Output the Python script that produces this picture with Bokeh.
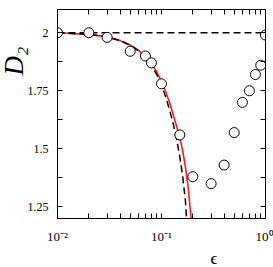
from bokeh.plotting import figure
from bokeh.models import Range1d, FixedTicker, LinearAxis, LogAxis, Title
from bokeh.embed import file_html
from bokeh.resources import INLINE

# ---- data ----
eps_pts = [0.01, 0.02, 0.03, 0.05, 0.07, 0.08, 0.10, 0.15, 0.20, 0.30, 0.40,
           0.50, 0.60, 0.70, 0.80, 0.90, 1.00]
d2_pts = [2.00, 2.00, 1.98, 1.92, 1.90, 1.87, 1.78, 1.56, 1.38, 1.35, 1.43,
          1.57, 1.70, 1.75, 1.82, 1.86, 1.99]

red_eps = [0.010, 0.020, 0.030, 0.040, 0.050, 0.060, 0.070, 0.080, 0.090, 0.100,
           0.110, 0.120, 0.130, 0.140, 0.150, 0.160, 0.170, 0.180, 0.190, 0.193]
red_d2 = [2.000, 1.993, 1.982, 1.966, 1.947, 1.925, 1.898, 1.867, 1.832, 1.790,
          1.745, 1.697, 1.645, 1.595, 1.550, 1.490, 1.420, 1.340, 1.230, 1.200]

dash_eps = [0.010, 0.020, 0.030, 0.040, 0.050, 0.060, 0.070, 0.080, 0.090, 0.100,
            0.110, 0.120, 0.130, 0.140, 0.150, 0.160, 0.170, 0.174]
dash_d2 = [2.000, 1.993, 1.982, 1.966, 1.946, 1.922, 1.893, 1.858, 1.820, 1.775,
           1.722, 1.665, 1.605, 1.540, 1.465, 1.380, 1.275, 1.200]

flat_eps = [0.01, 1.0]
flat_d2 = [2.0, 2.0]

x_major = [0.01, 0.1, 1.0]
x_minor = [0.02, 0.03, 0.04, 0.05, 0.06, 0.07, 0.08, 0.09,
           0.2, 0.3, 0.4, 0.5, 0.6, 0.7, 0.8, 0.9]
x_labels = ["10⁻²", "10⁻¹", "10⁰"]
y_major = [1.25, 1.5, 1.75, 2.0]
y_minor = [1.375, 1.625, 1.875]
y_labels = ["1.25", "1.5", "1.75", "2"]

FONT = "Liberation Serif"

p = figure(width=273, height=267, x_axis_type="log",
           x_range=Range1d(0.01, 1.0), y_range=Range1d(1.2, 2.1),
           output_backend="svg", toolbar_location=None,
           min_border_left=55, min_border_right=8,
           min_border_top=9, min_border_bottom=49)
p.grid.visible = False
p.outline_line_color = "black"
p.outline_line_width = 1
p.background_fill_color = "white"
p.border_fill_color = "white"

xt = FixedTicker(ticks=x_major, minor_ticks=x_minor)
yt = FixedTicker(ticks=y_major, minor_ticks=y_minor)


def style(ax, labels):
    ax.axis_line_color = "black"
    ax.axis_line_width = 1
    ax.major_tick_in = 5
    ax.major_tick_out = 0
    ax.minor_tick_in = 5
    ax.minor_tick_out = 0
    ax.major_tick_line_color = "black"
    ax.minor_tick_line_color = "black"
    ax.major_label_text_font = FONT
    ax.major_label_text_color = "black"
    ax.major_label_overrides = labels


xa = p.xaxis[0]
xa.ticker = xt
style(xa, {t: l for t, l in zip(x_major, x_labels)})
xa.major_label_text_font_size = "13px"
xa.major_label_standoff = 10

ya = p.yaxis[0]
ya.ticker = yt
style(ya, {t: l for t, l in zip(y_major, y_labels)})
ya.major_label_text_font_size = "12px"
ya.major_label_standoff = 9

top = LogAxis(ticker=xt)
style(top, {t: "" for t in x_major})
top.major_label_standoff = 0
top.major_label_text_font_size = "1px"
p.add_layout(top, "above")

right = LinearAxis(ticker=yt)
style(right, {t: "" for t in y_major})
right.major_label_standoff = 0
right.major_label_text_font_size = "1px"
p.add_layout(right, "right")

# curves
p.line(red_eps, red_d2, line_color="#ff1a1a", line_width=1.6)
p.line(dash_eps, dash_d2, line_color="black", line_width=1.5, line_dash="7 4")
p.line(flat_eps, flat_d2, line_color="black", line_width=1.5, line_dash="7 4")

# data points
p.scatter(eps_pts, d2_pts, marker="circle", size=10, fill_color="white",
          line_color="black", line_width=1)

# axis titles
p.add_layout(Title(text="D₂", text_font=FONT, text_font_style="italic",
                   text_font_size="27px", text_color="black",
                   align="left", offset=143, standoff=-8), "left")
p.add_layout(Title(text="ϵ", text_font=FONT, text_font_style="normal",
                   text_font_size="17px", text_color="black",
                   align="left", offset=153, standoff=0), "below")

open("out.html", "w").write(file_html(p, INLINE))
